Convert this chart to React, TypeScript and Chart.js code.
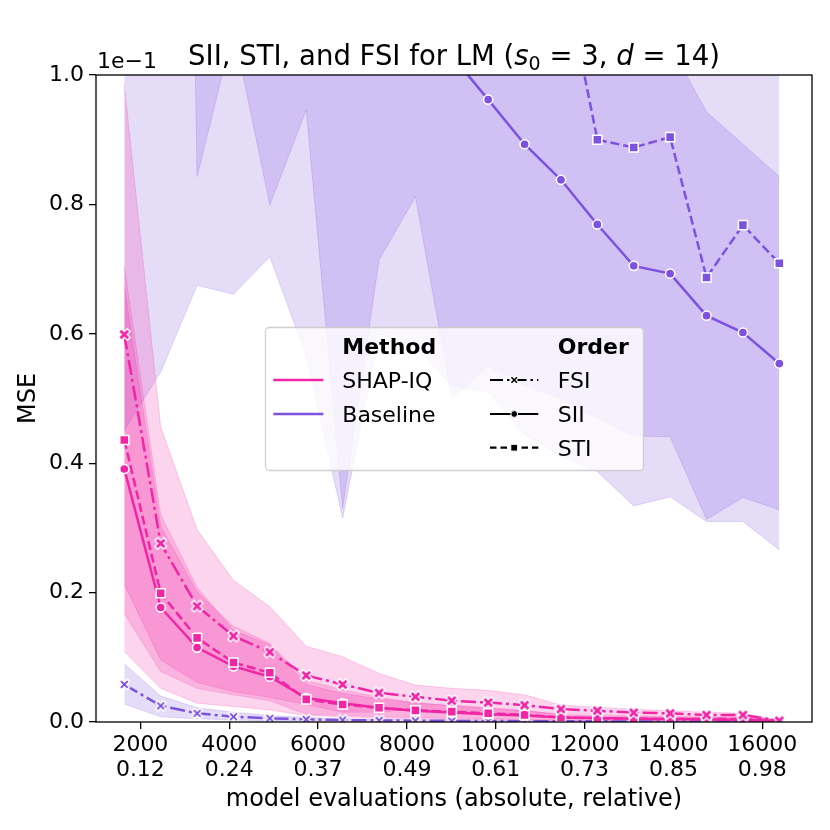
import { useEffect, useRef } from "react";
import { Chart, registerables } from "chart.js";

Chart.register(...registerables);

const FONT = '"DejaVu Sans", sans-serif';

// model evaluations (budget), absolute
const budgets = [1638, 2458, 3277, 4096, 4915, 5734, 6554, 7373, 8192, 9011, 9830, 10650, 11469, 12288, 13107, 13926, 14746, 15565, 16384];

const xTicks = [2000, 4000, 6000, 8000, 10000, 12000, 14000, 16000];
const xTickRel = ["0.12", "0.24", "0.37", "0.49", "0.61", "0.73", "0.85", "0.98"];
const yTicks = [0, 0.2, 0.4, 0.6, 0.8, 1.0];

// SHAP-IQ
const shapFSI = [0.599, 0.276, 0.179, 0.133, 0.108, 0.072, 0.058, 0.045, 0.039, 0.033, 0.030, 0.026, 0.020, 0.0175, 0.0144, 0.0134, 0.0108, 0.0108, 0.002];
const shapFSILo = [0.213, 0.096, 0.061, 0.047, 0.038, 0.027, 0.015, 0.015, 0.021, 0.014, 0.011, 0.010, 0.014, 0.012, 0.009, 0.009, 0.0066, 0.008, 0.001];
const shapFSIHi = [0.985, 0.456, 0.297, 0.219, 0.178, 0.117, 0.101, 0.075, 0.057, 0.052, 0.049, 0.042, 0.026, 0.0227, 0.0196, 0.0175, 0.015, 0.0134, 0.003];

const shapSII = [0.391, 0.177, 0.115, 0.086, 0.070, 0.037, 0.029, 0.022, 0.0175, 0.0145, 0.012, 0.010, 0.007, 0.006, 0.005, 0.0045, 0.004, 0.0035, 0.001];
const shapSIILo = [0.109, 0.052, 0.029, 0.024, 0.0185, 0.010, 0.008, 0.006, 0.005, 0.004, 0.003, 0.003, 0.002, 0.0015, 0.0012, 0.001, 0.001, 0.0008, 0.0002];
const shapSIIHi = [0.673, 0.302, 0.201, 0.148, 0.1215, 0.064, 0.050, 0.038, 0.030, 0.025, 0.021, 0.017, 0.012, 0.0105, 0.0088, 0.008, 0.007, 0.0062, 0.0018];

const shapSTI = [0.436, 0.199, 0.130, 0.092, 0.076, 0.035, 0.027, 0.022, 0.018, 0.016, 0.0135, 0.011, 0.0072, 0.0057, 0.005, 0.0046, 0.0046, 0.0046, 0.002];
const shapSTILo = [0.168, 0.078, 0.052, 0.042, 0.033, 0.012, 0.010, 0.008, 0.007, 0.006, 0.005, 0.004, 0.003, 0.002, 0.002, 0.0018, 0.0018, 0.0018, 0.0008];
const shapSTIHi = [0.704, 0.320, 0.208, 0.142, 0.119, 0.058, 0.044, 0.036, 0.029, 0.026, 0.022, 0.018, 0.0114, 0.0094, 0.008, 0.0074, 0.0074, 0.0074, 0.0032];

// Baseline
const baseFSI = [0.058, 0.025, 0.0134, 0.0082, 0.0057, 0.0041, 0.003, 0.0025, 0.002, 0.0017, 0.0015, 0.0013, 0.0011, 0.001, 0.0009, 0.0008, 0.0007, 0.0006, 0.0005];
const baseFSILo = [0.028, 0.008, 0.005, 0.003, 0.002, 0.0015, 0.001, 0.0008, 0.0006, 0.0005, 0.0004, 0.0003, 0.0003, 0.0002, 0.0002, 0.0002, 0.0001, 0.0001, 0.0001];
const baseFSIHi = [0.090, 0.040, 0.022, 0.015, 0.010, 0.007, 0.005, 0.0042, 0.0034, 0.003, 0.0026, 0.0023, 0.002, 0.0018, 0.0016, 0.0014, 0.0013, 0.0011, 0.0009];

const baseSII = [2.6, 2.2, 1.9, 1.7, 1.5, 1.35, 1.25, 1.15, 1.08, 1.03, 0.962, 0.893, 0.838, 0.769, 0.705, 0.693, 0.628, 0.602, 0.554];
const baseSIILo = [0.451, 0.541, 0.675, 0.661, 0.719, 0.566, 0.315, 0.60, 0.58, 0.52, 0.51, 0.444, 0.41, 0.387, 0.334, 0.348, 0.310, 0.310, 0.266];
const baseSIIHi = [4.7, 3.9, 3.1, 2.7, 2.3, 2.1, 2.2, 1.7, 1.6, 1.55, 1.42, 1.34, 1.27, 1.15, 1.08, 1.046, 0.943, 0.893, 0.843];

const baseSTI = [5.2, 5.0, 2.9, 2.7, 2.4, 2.2, 1.7, 1.8, 1.8, 1.5, 1.42, 1.35, 1.18, 0.900, 0.888, 0.904, 0.687, 0.768, 0.709];
const baseSTILo = [4.5, 4.0, 0.843, 1.07, 0.799, 0.946, 0.33, 0.714, 0.812, 0.50, 0.55, 0.52, 0.50, 0.47, 0.442, 0.441, 0.313, 0.347, 0.328];
const baseSTIHi = [6.0, 6.0, 5.0, 4.4, 4.0, 3.5, 3.0, 2.9, 2.8, 2.5, 2.3, 2.1, 1.9, 1.6, 1.45, 1.4, 1.3, 1.25, 1.09];

const PINK = "240,38,165";
const PURPLE = "125,82,222";

const toXY = (vals: number[]) => vals.map((y, i) => ({ x: budgets[i], y }));

function makeX(rgb: string, half: number, lw: number): HTMLCanvasElement {
    const size = Math.ceil(half * 2 + lw + 6);
    const c = document.createElement("canvas");
    c.width = size;
    c.height = size;
    const g = c.getContext("2d")!;
    const m = size / 2;
    const cross = (h: number) => {
        g.beginPath();
        g.moveTo(m - h, m - h);
        g.lineTo(m + h, m + h);
        g.moveTo(m - h, m + h);
        g.lineTo(m + h, m - h);
        g.stroke();
    };
    g.lineCap = "butt";
    g.strokeStyle = "#fff";
    g.lineWidth = lw + 2.6;
    cross(half + 1.1);
    g.strokeStyle = `rgb(${rgb})`;
    g.lineWidth = lw;
    cross(half);
    return c;
}

const band = (lo: number[], hi: number[], rgb: string) => [
    {
        data: toXY(lo),
        borderColor: `rgba(${rgb},0.2)`,
        borderWidth: 1,
        pointRadius: 0,
        fill: false,
        order: 10,
    },
    {
        data: toXY(hi),
        borderColor: `rgba(${rgb},0.2)`,
        backgroundColor: `rgba(${rgb},0.2)`,
        borderWidth: 1,
        pointRadius: 0,
        fill: "-1",
        order: 10,
    },
];

const line = (vals: number[], rgb: string, dash: number[], style: any, radius: number) => ({
    data: toXY(vals),
    borderColor: `rgb(${rgb})`,
    backgroundColor: `rgb(${rgb})`,
    borderWidth: 2.5,
    borderDash: dash,
    pointStyle: style,
    pointRadius: radius,
    pointBackgroundColor: `rgb(${rgb})`,
    pointBorderColor: "#fff",
    pointBorderWidth: 1.5,
    fill: false,
    tension: 0,
    order: 0,
});

const DASH = [9, 4];
const DASHDOT = [15, 4, 3, 4];

function drawRuns(ctx: CanvasRenderingContext2D, runs: { t: string; f: string; dy?: number }[], cx: number, y: number) {
    let total = 0;
    for (const r of runs) {
        ctx.font = r.f;
        total += ctx.measureText(r.t).width;
    }
    let x = cx - total / 2;
    ctx.textAlign = "left";
    for (const r of runs) {
        ctx.font = r.f;
        ctx.fillText(r.t, x, y + (r.dy || 0));
        x += ctx.measureText(r.t).width;
    }
}

function drawMarker(ctx: CanvasRenderingContext2D, kind: string, x: number, y: number) {
    ctx.save();
    ctx.fillStyle = "#000";
    ctx.strokeStyle = "#fff";
    ctx.lineWidth = 1;
    if (kind === "circle") {
        ctx.beginPath();
        ctx.arc(x, y, 3.4, 0, Math.PI * 2);
        ctx.fill();
        ctx.stroke();
    } else if (kind === "rect") {
        ctx.fillRect(x - 3.4, y - 3.4, 6.8, 6.8);
        ctx.strokeRect(x - 3.4, y - 3.4, 6.8, 6.8);
    } else {
        ctx.lineWidth = 4;
        ctx.beginPath();
        ctx.moveTo(x - 3.6, y - 3.6);
        ctx.lineTo(x + 3.6, y + 3.6);
        ctx.moveTo(x - 3.6, y + 3.6);
        ctx.lineTo(x + 3.6, y - 3.6);
        ctx.stroke();
        ctx.strokeStyle = "#000";
        ctx.lineWidth = 1.6;
        ctx.beginPath();
        ctx.moveTo(x - 2.8, y - 2.8);
        ctx.lineTo(x + 2.8, y + 2.8);
        ctx.moveTo(x - 2.8, y + 2.8);
        ctx.lineTo(x + 2.8, y - 2.8);
        ctx.stroke();
    }
    ctx.restore();
}

const decorations = {
    id: "decorations",
    afterDatasetsDraw(chart: any) {
        const { ctx, chartArea: a } = chart;
        ctx.save();
        ctx.strokeStyle = "#000";
        ctx.lineWidth = 1.3;
        ctx.strokeRect(a.left, a.top, a.right - a.left, a.bottom - a.top);
        ctx.restore();
    },
    afterDraw(chart: any) {
        const { ctx, chartArea: a } = chart;
        const cx = (a.left + a.right) / 2;
        ctx.save();
        ctx.fillStyle = "#000";
        ctx.textBaseline = "alphabetic";

        // title
        const n = `27.5px ${FONT}`;
        const it = `oblique 27.5px ${FONT}`;
        const sub = `19px ${FONT}`;
        drawRuns(
            ctx,
            [
                { t: "SII, STI, and FSI for LM (", f: n },
                { t: "s", f: it },
                { t: "0", f: sub, dy: 5 },
                { t: " = 3, ", f: n },
                { t: "d", f: it },
                { t: " = 14)", f: n },
            ],
            cx,
            65
        );

        // offset text
        ctx.font = `22px ${FONT}`;
        ctx.textAlign = "left";
        ctx.fillText("1e\u22121", a.left + 1, 68);

        // axis titles
        ctx.font = `24px ${FONT}`;
        ctx.textAlign = "center";
        ctx.fillText("model evaluations (absolute, relative)", cx, 806);
        ctx.save();
        ctx.translate(28.5, (a.top + a.bottom) / 2);
        ctx.rotate(-Math.PI / 2);
        ctx.textBaseline = "middle";
        ctx.fillText("MSE", 0, 0);
        ctx.restore();

        // legend
        const x0 = 265.5, y0 = 327.5, x1 = 643.5, y1 = 470.5;
        ctx.beginPath();
        ctx.roundRect(x0, y0, x1 - x0, y1 - y0, 4);
        ctx.fillStyle = "rgba(255,255,255,0.8)";
        ctx.fill();
        ctx.strokeStyle = "rgba(204,204,204,0.9)";
        ctx.lineWidth = 1.3;
        ctx.stroke();

        const rows = [380, 414, 447.7];
        ctx.fillStyle = "#000";
        ctx.textAlign = "left";
        ctx.font = `bold 22px ${FONT}`;
        ctx.fillText("Method", 342.3, 353.5);
        ctx.fillText("Order", 557.7, 353.5);
        ctx.font = `22px ${FONT}`;
        ctx.fillText("SHAP-IQ", 342.3, rows[0] + 8.3);
        ctx.fillText("Baseline", 342.3, rows[1] + 8.3);
        ctx.fillText("FSI", 557.7, rows[0] + 8.3);
        ctx.fillText("SII", 557.7, rows[1] + 8.3);
        ctx.fillText("STI", 557.7, rows[2] + 8.3);

        ctx.lineWidth = 2.5;
        ctx.strokeStyle = `rgb(${PINK})`;
        ctx.beginPath();
        ctx.moveTo(273.3, rows[0]);
        ctx.lineTo(323.3, rows[0]);
        ctx.stroke();
        ctx.strokeStyle = `rgb(${PURPLE})`;
        ctx.beginPath();
        ctx.moveTo(273.3, rows[1]);
        ctx.lineTo(323.3, rows[1]);
        ctx.stroke();

        const handles: [number[], string][] = [
            [[13, 4, 2.5, 4], "x"],
            [[], "circle"],
            [[6.5, 4], "rect"],
        ];
        handles.forEach(([dash, kind], i) => {
            ctx.strokeStyle = "#000";
            ctx.lineWidth = 2.2;
            ctx.setLineDash(dash);
            ctx.beginPath();
            ctx.moveTo(490, rows[i]);
            ctx.lineTo(538.3, rows[i]);
            ctx.stroke();
            ctx.setLineDash([]);
            drawMarker(ctx, kind, 514.2, rows[i]);
        });
        ctx.restore();
    },
};

export default function App() {
    const canvasRef = useRef<HTMLCanvasElement | null>(null);

    useEffect(() => {
        if (!canvasRef.current) {
            return;
        }
        const xPink = makeX(PINK, 3.8, 2.8);
        const xPurple = makeX(PURPLE, 3.4, 2.0);

        const chart = new Chart(canvasRef.current, {
            type: "line",
            data: {
                datasets: [
                    line(shapFSI, PINK, DASHDOT, xPink, 5),
                    line(shapSTI, PINK, DASH, "rect", 6.4),
                    line(shapSII, PINK, [], "circle", 4.6),
                    line(baseFSI, PURPLE, DASHDOT, xPurple, 5),
                    line(baseSTI, PURPLE, DASH, "rect", 6.4),
                    line(baseSII, PURPLE, [], "circle", 4.6),
                    ...band(shapFSILo, shapFSIHi, PINK),
                    ...band(shapSTILo, shapSTIHi, PINK),
                    ...band(shapSIILo, shapSIIHi, PINK),
                    ...band(baseFSILo, baseFSIHi, PURPLE),
                    ...band(baseSTILo, baseSTIHi, PURPLE),
                    ...band(baseSIILo, baseSIIHi, PURPLE),
                ] as any,
            },
            options: {
                animation: false,
                responsive: false,
                events: [],
                layout: { padding: { left: 0, top: 75, right: 18, bottom: 0 } },
                plugins: {
                    legend: { display: false },
                    title: { display: false },
                    tooltip: { enabled: false },
                    filler: { drawTime: "beforeDatasetsDraw" },
                } as any,
                scales: {
                    x: {
                        type: "linear",
                        min: 1001,
                        max: 17120,
                        afterBuildTicks: (s: any) => {
                            s.ticks = xTicks.map((v) => ({ value: v }));
                        },
                        afterFit: (s: any) => {
                            s.height = 108;
                        },
                        ticks: {
                            autoSkip: false,
                            maxRotation: 0,
                            color: "#000",
                            padding: 4,
                            font: { family: FONT, size: 22, lineHeight: 1.12 },
                            callback: (v: any, i: number) => [String(xTicks[i]), xTickRel[i]],
                        },
                        grid: { drawOnChartArea: false, drawTicks: true, tickLength: 7, color: "#000", lineWidth: 1.3 },
                        border: { display: false },
                    },
                    y: {
                        min: 0,
                        max: 1,
                        afterBuildTicks: (s: any) => {
                            s.ticks = yTicks.map((v) => ({ value: v }));
                        },
                        afterFit: (s: any) => {
                            s.width = 96;
                        },
                        ticks: {
                            color: "#000",
                            padding: 5,
                            font: { family: FONT, size: 22 },
                            callback: (v: any) => Number(v).toFixed(1),
                        },
                        grid: { drawOnChartArea: false, drawTicks: true, tickLength: 7, color: "#000", lineWidth: 1.3 },
                        border: { display: false },
                    },
                },
            },
            plugins: [decorations],
        });

        return () => chart.destroy();
    }, []);

    return (
        <div style={{ position: "absolute", left: 0, top: 0, width: 830, height: 830, background: "#fff" }}>
            <canvas ref={canvasRef} width={830} height={830} style={{ display: "block" }} />
        </div>
    );
}
